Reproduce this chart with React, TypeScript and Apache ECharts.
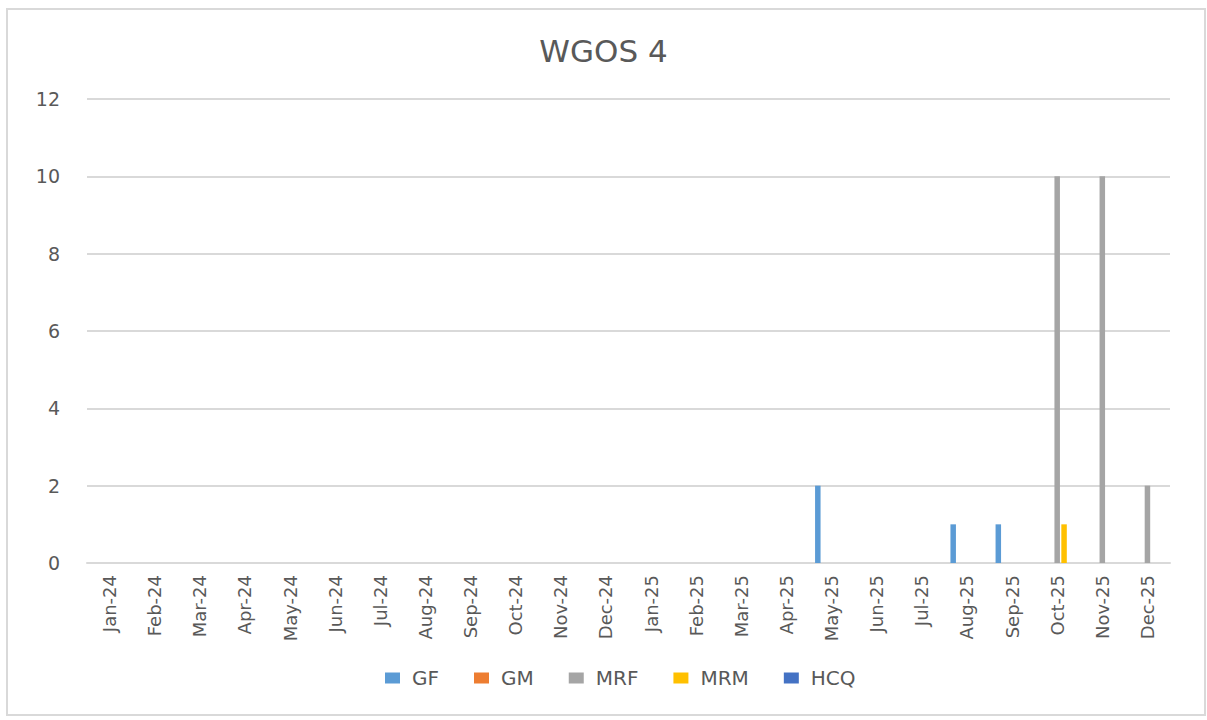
import React, { useEffect, useRef } from "react";
import * as echarts from "echarts";

const categories = [
  "Jan-24", "Feb-24", "Mar-24", "Apr-24", "May-24", "Jun-24", "Jul-24", "Aug-24",
  "Sep-24", "Oct-24", "Nov-24", "Dec-24", "Jan-25", "Feb-25", "Mar-25", "Apr-25",
  "May-25", "Jun-25", "Jul-25", "Aug-25", "Sep-25", "Oct-25", "Nov-25", "Dec-25",
];
const gf = [0, 0, 0, 0, 0, 0, 0, 0, 0, 0, 0, 0, 0, 0, 0, 0, 2, 0, 0, 1, 1, 0, 0, 0];
const gm = [0, 0, 0, 0, 0, 0, 0, 0, 0, 0, 0, 0, 0, 0, 0, 0, 0, 0, 0, 0, 0, 0, 0, 0];
const mrf = [0, 0, 0, 0, 0, 0, 0, 0, 0, 0, 0, 0, 0, 0, 0, 0, 0, 0, 0, 0, 0, 10, 10, 2];
const mrm = [0, 0, 0, 0, 0, 0, 0, 0, 0, 0, 0, 0, 0, 0, 0, 0, 0, 0, 0, 0, 0, 1, 0, 0];
const hcq = [0, 0, 0, 0, 0, 0, 0, 0, 0, 0, 0, 0, 0, 0, 0, 0, 0, 0, 0, 0, 0, 0, 0, 0];
const seriesNames = ["GF", "GM", "MRF", "MRM", "HCQ"];
const seriesData = [gf, gm, mrf, mrm, hcq];
const colors = ["#5B9BD5", "#ED7D31", "#A5A5A5", "#FFC000", "#4472C4"];

const FONT = "DejaVu Sans";
const TEXT = "#595959";

export default function App() {
  const ref = useRef<HTMLDivElement>(null);
  useEffect(() => {
    if (!ref.current) return;
    const chart = echarts.init(ref.current, undefined, { renderer: "svg" });
    chart.setOption({
      animation: false,
      backgroundColor: "#ffffff",
      title: {
        text: "WGOS 4",
        left: "center",
        top: 30,
        textStyle: { fontFamily: FONT, fontSize: 31, fontWeight: "normal", color: TEXT },
      },
      graphic: [
        {
          type: "rect",
          shape: { x: 7, y: 9, width: 1198, height: 706 },
          style: { fill: "none", stroke: "#d9d9d9", lineWidth: 2 },
          silent: true,
        },
      ],
      legend: {
        bottom: 27,
        left: 380,
        itemWidth: 15,
        itemHeight: 11,
        itemGap: 35,
        icon: "rect",
        textStyle: { fontFamily: FONT, fontSize: 20, color: TEXT, padding: [0, 0, 0, 7] },
        data: seriesNames,
      },
      grid: { left: 87, right: 37, top: 99, bottom: 157, containLabel: false },
      xAxis: {
        type: "category",
        data: categories,
        axisLine: { lineStyle: { color: "#d9d9d9", width: 2 } },
        axisTick: { show: false },
        axisLabel: {
          rotate: 90,
          interval: 0,
          margin: 12,
          fontFamily: FONT,
          fontSize: 18,
          color: TEXT,
        },
      },
      yAxis: {
        type: "value",
        min: 0,
        max: 12,
        interval: 2,
        axisLine: { show: false },
        axisTick: { show: false },
        splitLine: { lineStyle: { color: "#d9d9d9", width: 2 } },
        axisLabel: { margin: 27, fontFamily: FONT, fontSize: 19, color: TEXT },
      },
      series: seriesNames.map((name, i) => ({
        name,
        type: "bar",
        data: seriesData[i],
        barWidth: 5.5,
        barGap: "25%",
        itemStyle: { color: colors[i] },
      })),
    });
    return () => chart.dispose();
  }, []);
  return (
    <div
      ref={ref}
      style={{ position: "absolute", left: 0, top: 0, width: 1207, height: 720 }}
    />
  );
}
